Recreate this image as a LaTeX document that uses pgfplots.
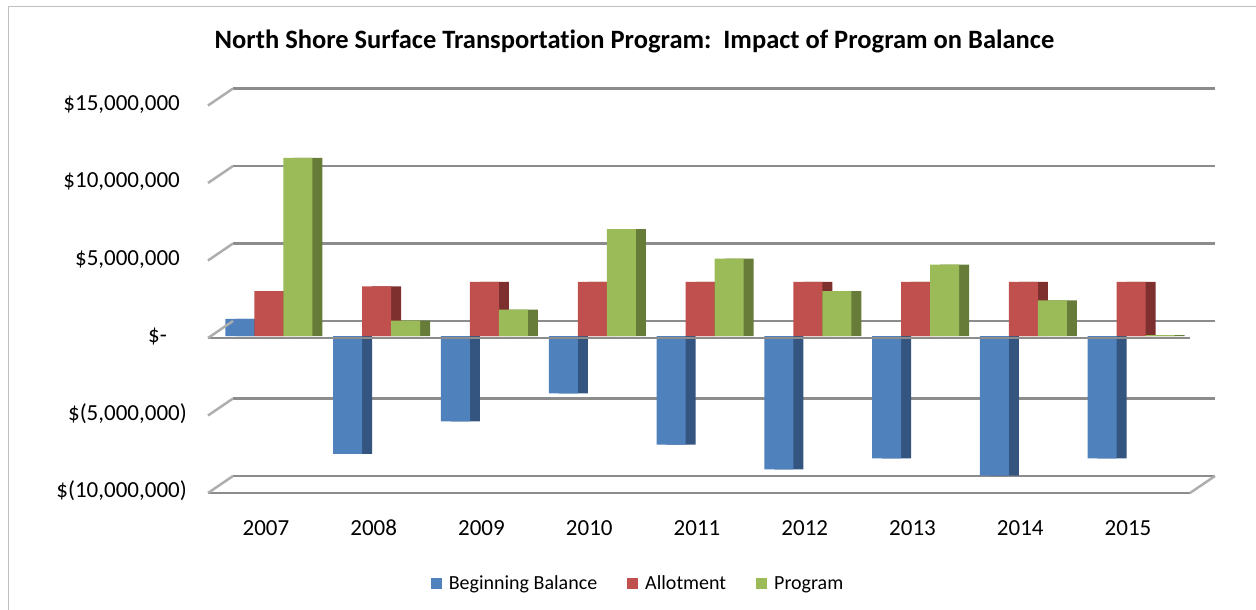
\documentclass[border=0pt]{standalone}
\usepackage{fontspec}
\setmainfont{Carlito}[Ligatures=NoCommon]
\usepackage{pgfplots}
\usepackage{pgfplotstable}
\pgfplotsset{compat=1.18}
\definecolor{bbF}{HTML}{4F81BD}
\definecolor{bbS}{HTML}{34557F}
\definecolor{alF}{HTML}{C0504D}
\definecolor{alS}{HTML}{7E302E}
\definecolor{prF}{HTML}{9BBB59}
\definecolor{prS}{HTML}{687C39}
\definecolor{gridc}{HTML}{8C8C8C}
\definecolor{framec}{HTML}{BFBFBF}

% values in millions of dollars
\pgfplotstableread{
x bb al pr
0 1.1 2.9 11.5
1 -7.6 3.2 1.0
2 -5.5 3.5 1.7
3 -3.7 3.5 6.9
4 -7.0 3.5 5.0
5 -8.6 3.5 2.9
6 -7.9 3.5 4.6
7 -9.0 3.5 2.3
8 -7.9 3.5 0.05
}\data

\begin{document}
\begin{tikzpicture}
\path[use as bounding box] (0,0) rectangle (1256pt,-610pt);
\draw[framec, line width=1pt] (8pt,-615pt) -- (8pt,-7pt) -- (1265pt,-7pt);
\node[font=\fontsize{26.5}{30}\selectfont\bfseries, anchor=base, inner sep=0pt] at (634.5pt,-49pt)
  {North Shore Surface Transportation Program:\ \ Impact of Program on Balance};
\begin{axis}[
  at={(208pt,-491pt)}, anchor=south west,
  scale only axis, width=982pt, height=387.5pt,
  xmin=-0.538, xmax=8.575, ymin=-10, ymax=15,
  axis line style={draw=none},
  major tick length=0pt,
  xtick={0,1,2,3,4,5,6,7,8},
  xticklabels={2007,2008,2009,2010,2011,2012,2013,2014,2015},
  ytick={-10,-5,0,5,10,15},
  yticklabels={{\$(10,000,000)},{\$(5,000,000)},{\$-\hspace{13pt}\phantom{)}},{\$5,000,000\phantom{)}},{\$10,000,000\phantom{)}},{\$15,000,000\phantom{)}}},
  ticklabel style={font=\fontsize{23}{27}\selectfont, inner sep=0pt},
  yticklabel style={anchor=east, xshift=-21pt},
  xticklabel style={anchor=north, yshift=-29pt},
  ymajorgrids,
  major grid style={gridc, line width=2.5pt, xshift=25pt, yshift=15pt},
  clip=false,
  legend columns=3,
  legend style={draw=none, at={(0.4369,-0.2387)}, anchor=center,
    font=\fontsize{20}{24}\selectfont,
    nodes={inner sep=0pt},
    /tikz/every odd column/.append style={column sep=7pt},
    /tikz/every even column/.append style={column sep=30pt}},
  leg/.style={legend image code/.code={\fill[##1] (0pt,-5.5pt) rectangle (11pt,5.5pt);}},
]
% side faces
\addplot[ybar, bar width=29pt, bar shift=-16pt, fill=bbS, draw=none, forget plot] table[x=x,y=bb]{\data};
\addplot[ybar, bar width=29pt, bar shift=13pt, fill=alS, draw=none, forget plot] table[x=x,y=al]{\data};
\addplot[ybar, bar width=29pt, bar shift=42pt, fill=prS, draw=none, forget plot] table[x=x,y=pr]{\data};
% front faces
\addplot[ybar, bar width=29pt, bar shift=-26pt, fill=bbF, draw=none, leg] table[x=x,y=bb]{\data};
\addplot[ybar, bar width=29pt, bar shift=3pt, fill=alF, draw=none, leg] table[x=x,y=al]{\data};
\addplot[ybar, bar width=29pt, bar shift=32pt, fill=prF, draw=none, leg] table[x=x,y=pr]{\data};
\legend{Beginning Balance,Allotment,Program}
% front edges of the floor and wall
\draw[gridc, line width=2.5pt] ([yshift=-2pt]axis cs:-0.538,-10) -- ([yshift=-2pt]axis cs:8.575,-10);
\draw[gridc, line width=2.5pt] ([yshift=-2pt]axis cs:-0.538,0) -- ([yshift=-2pt]axis cs:8.575,0);
\pgfplotsinvokeforeach{-10,-5,0,5,10,15}{
  \draw[gridc!70, line width=2.5pt] ([yshift=-2pt]axis cs:-0.538,#1) -- ([xshift=25pt,yshift=15pt]axis cs:-0.538,#1);
}
\draw[gridc!70, line width=2.5pt] ([yshift=-2pt]axis cs:8.575,-10) -- ([xshift=25pt,yshift=15pt]axis cs:8.575,-10);
\end{axis}
\end{tikzpicture}
\end{document}
